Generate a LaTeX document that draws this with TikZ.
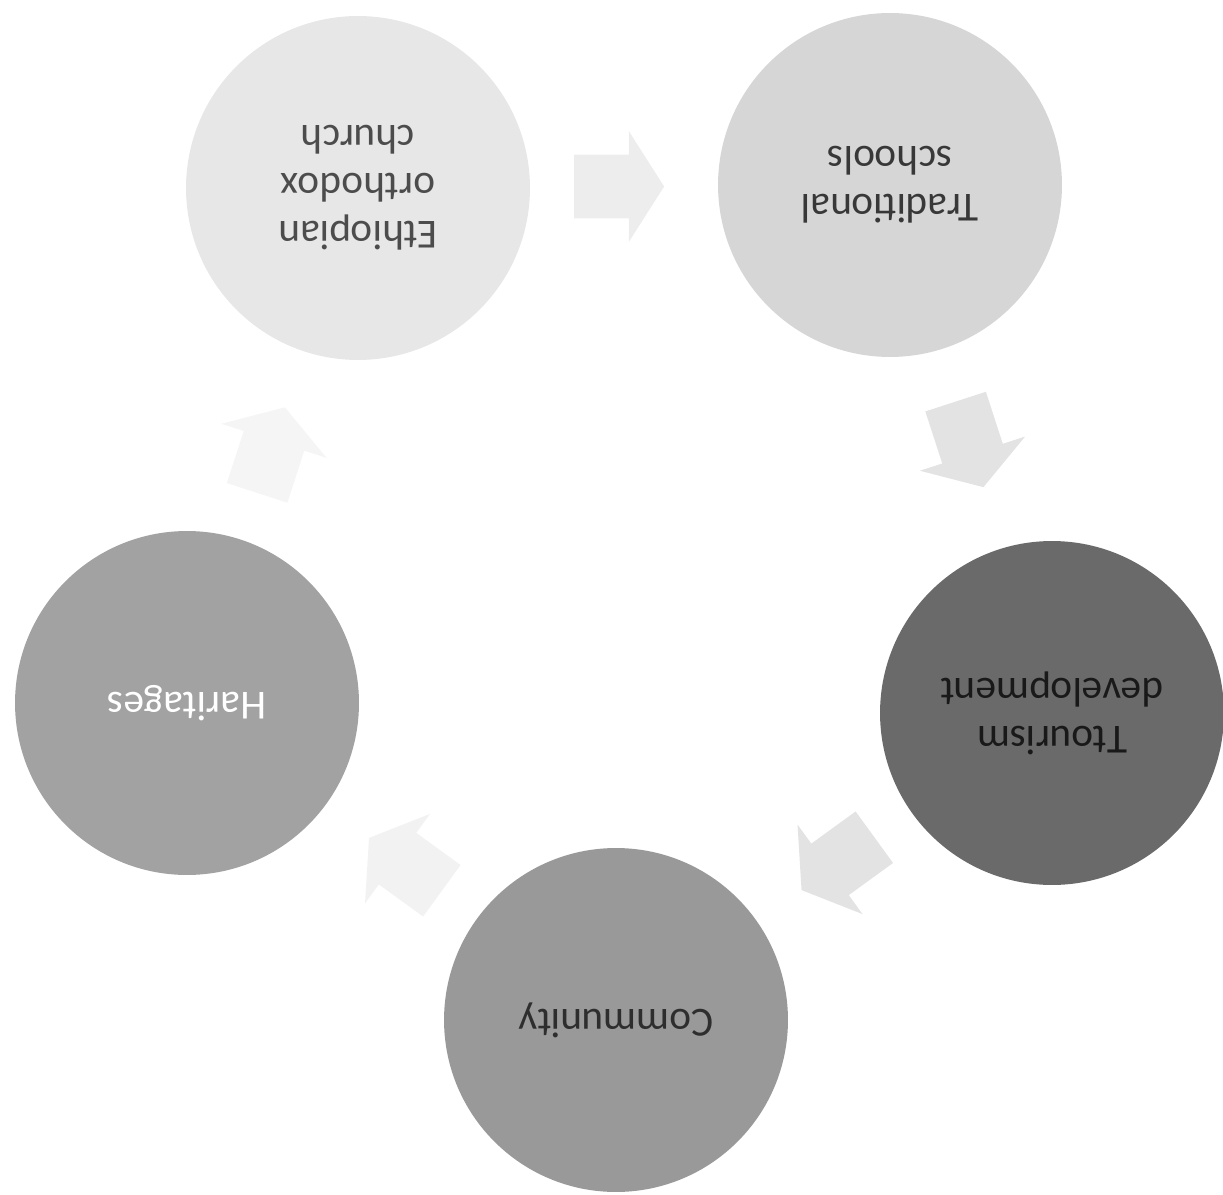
\documentclass[tikz,border=0pt]{standalone}
\usepackage{fontspec}
\setmainfont{Carlito}
\usepackage{tikz}
\usepackage{xcolor}
\usetikzlibrary{shapes.arrows, calc}
\definecolor{churchgray}{HTML}{E7E7E7}
\definecolor{schoolgray}{HTML}{D6D6D6}
\definecolor{tourgray}{HTML}{6A6A6A}
\definecolor{commgray}{HTML}{999999}
\definecolor{heritgray}{HTML}{A2A2A2}

\begin{document}
\begin{tikzpicture}[x=0.02cm, y=-0.02cm,
    stage/.style={circle, minimum size=6.88cm, inner sep=0pt, align=center, rotate=180, font=\fontsize{23.5}{27.3}\selectfont},
    flow/.style={single arrow, minimum height=1.8cm, inner xsep=0pt, inner ysep=0.63cm, single arrow head extend=0.47cm, single arrow tip angle=115, rotate=#1, xshift=-0.3cm}]
                                \useasboundingbox (0, 0) rectangle (1223, 1195);

                                \node[stage, fill=churchgray, text=black!70] (1) at (358, 188) {Ethiopian\\orthodox\\church};
                                \node[stage, fill=schoolgray, text=black!78] (2) at (890, 185) {Traditional\\schools};
                                \node[stage, fill=tourgray, text=black!90] (3) at (1052, 713) {Ttourism\\development};
                                \node[stage, fill=commgray, text=black!82] (4) at (616, 1020) {Community};
                                \node[stage, fill=heritgray, text=white] (5) at (187, 703) {Haritages};

                                \node[flow=0, fill=black!7] (12) at ($(1)!0.5!(2)$) {};
                                \node[flow=-72, fill=black!11] (23) at ($(2)!0.5!(3)$) {};
                                \node[flow=-144, fill=black!11] (34) at ($(3)!0.5!(4)$) {};
                                \node[flow=144, fill=black!5] (45) at ($(4)!0.5!(5)$) {};
                                \node[flow=72, fill=black!4] (51) at ($(5)!0.5!(1)$) {};
                            \end{tikzpicture}
\end{document}
